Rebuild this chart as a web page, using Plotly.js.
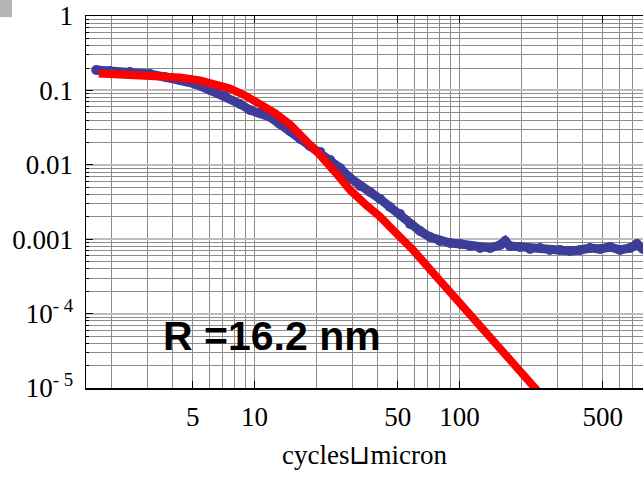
<!DOCTYPE html>
<html>
<head>
<meta charset="utf-8">
<script src="https://cdn.plot.ly/plotly-3.0.1.min.js"></script>
<style>
  html, body { margin: 0; padding: 0; background: #fff; }
</style>
</head>
<body>
<div id="chart"></div>
<script>
// Measured power spectrum (blue) and model fit (red), log-log
const measuredX = [1.69, 1.97, 2.47, 3.09, 3.66, 4.33, 5.13, 6.07, 7.18, 8.5, 9.5, 10.6, 11.9, 13.3, 14.9, 16.7, 18.6, 20.9, 23.4, 26.1, 29.2, 32.7, 36.6, 41.0, 45.8, 51.3, 57.4, 64.2, 71.8, 80.3, 89.9, 101, 113, 126, 141, 158, 167, 176, 197, 221, 247, 276, 309, 346, 387, 433, 485, 542, 607, 679, 734, 785];
const measuredY = [0.188, 0.182, 0.177, 0.166, 0.151, 0.138, 0.122, 0.101, 0.0841, 0.0657, 0.0545, 0.0497, 0.0439, 0.0354, 0.0285, 0.0222, 0.0179, 0.0149, 0.0116, 0.00906, 0.00665, 0.00519, 0.00431, 0.00347, 0.00271, 0.00218, 0.0016, 0.00129, 0.00107, 0.000946, 0.000889, 0.000862, 0.00081, 0.000761, 0.000761, 0.000836, 0.000946, 0.00081, 0.000786, 0.000738, 0.000761, 0.000716, 0.000716, 0.000694, 0.000716, 0.000761, 0.000738, 0.000786, 0.000716, 0.000761, 0.000862, 0.000738];

const fitX = [1.74, 2.47, 3.46, 4.33, 5.42, 6.42, 7.6, 8.99, 10.64, 12.59, 14.9, 17.63, 20.87, 24.7, 29.23, 34.59, 40.95, 48.45, 59.33, 75.96, 97.2, 125.9, 166.7, 233.5, 276.3];
const fitY = [0.1687, 0.1636, 0.1561, 0.1491, 0.1358, 0.1219, 0.106, 0.0854, 0.0667, 0.0497, 0.0348, 0.02257, 0.01354, 0.008, 0.00458, 0.00297, 0.002006, 0.00125, 0.000716, 0.00033, 0.000152, 6.81e-5, 2.86e-5, 1e-5, 5.9e-6];

// Axis ticks
const xTickVals = [5, 10, 50, 100, 500];
const xTickText = ['5', '10', '50', '100', '500'];
const yTickVals = [1e-5, 1e-4, 1e-3, 1e-2, 1e-1, 1];
const yTickText = ['10<sup>- 5</sup>', '10<sup>- 4</sup>', '0.001', '0.01', '0.1', '1'];

const xLabel = 'cycles\u2294micron';
const radiusLabel = 'R =16.2 nm';

// Minor grid positions: every digit 2..9 within each decade
const xMinor = [];
[1, 10, 100].forEach(d => {
  for (let k = 2; k <= 9; k++) {
    const v = k * d;
    if (!xTickVals.includes(v)) xMinor.push(v);
  }
});
const yMinor = [];
[1e-5, 1e-4, 1e-3, 1e-2, 1e-1].forEach(d => {
  for (let k = 2; k <= 9; k++) yMinor.push(k * d);
});

const serif = 'Liberation Serif';
const gridDark = '#8c8c8c';

const traces = [
  {
    x: measuredX, y: measuredY, type: 'scatter', mode: 'lines+markers',
    line: { color: '#3d3d99', width: 9 },
    marker: { color: '#3d3d99', size: 10 },
    hoverinfo: 'skip'
  },
  {
    x: fitX, y: fitY, type: 'scatter', mode: 'lines',
    line: { color: '#ff0000', width: 8 },
    hoverinfo: 'skip'
  }
];

const layout = {
  width: 643, height: 477,
  margin: { l: 86, r: 0, t: 16, b: 89 },
  paper_bgcolor: '#ffffff', plot_bgcolor: '#ffffff',
  showlegend: false,
  font: { family: serif, color: '#000' },
  xaxis: {
    type: 'log', range: [0.178, 2.895],
    tickmode: 'array', tickvals: xTickVals, ticktext: xTickText,
    ticks: 'inside', ticklen: 7, tickwidth: 1, tickcolor: '#000',
    showline: true, linecolor: '#000', linewidth: 1.5, mirror: 'ticks',
    showgrid: true, gridcolor: gridDark, gridwidth: 1, zeroline: false,
    minor: { tickmode: 'array', tickvals: xMinor, ticks: '', showgrid: true, gridcolor: gridDark, gridwidth: 1 },
    tickfont: { family: serif, size: 27, color: '#000' },
    ticklabelstandoff: 4,
    title: { text: xLabel, font: { family: serif, size: 27, color: '#000' }, standoff: 14 }
  },
  yaxis: {
    type: 'log', range: [-5, 0],
    tickmode: 'array', tickvals: yTickVals, ticktext: yTickText,
    ticks: 'inside', ticklen: 7, tickwidth: 1, tickcolor: '#000',
    showline: true, linecolor: '#000', linewidth: 1.5, mirror: false,
    showgrid: true, gridcolor: '#bdbdbd', gridwidth: 2, zeroline: false,
    minor: { tickmode: 'array', tickvals: yMinor, ticks: 'inside', ticklen: 3, tickcolor: '#000', showgrid: true, gridcolor: gridDark, gridwidth: 1 },
    tickfont: { family: serif, size: 27, color: '#000' },
    ticklabelstandoff: 6
  },
  annotations: [{
    text: '<b>' + radiusLabel + '</b>',
    xref: 'paper', yref: 'paper', x: 0.334, y: 0.14,
    xanchor: 'center', yanchor: 'middle', showarrow: false,
    font: { family: 'Liberation Sans', size: 41, color: '#000' }
  }],
  shapes: [{
    type: 'rect', xref: 'paper', yref: 'paper',
    x0: -0.1544, x1: -0.1329, y0: 0.997, y1: 1.043,
    fillcolor: '#b5b5b5', line: { width: 0 }
  }]
};

Plotly.newPlot('chart', traces, layout, { staticPlot: true });
</script>
</body>
</html>
